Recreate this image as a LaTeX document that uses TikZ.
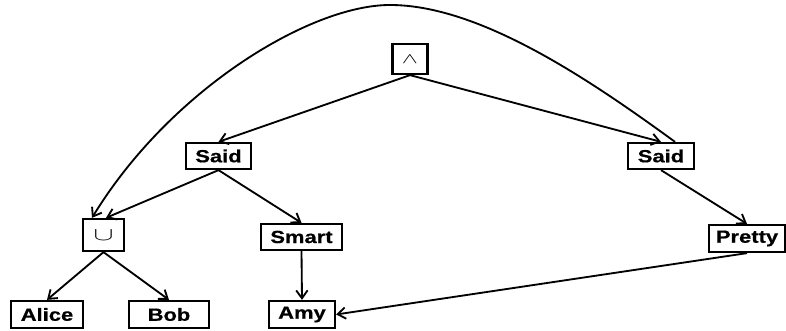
\documentclass[tikz,border=0pt]{standalone}
\usepackage{fontspec}
\usepackage{graphicx}
\usetikzlibrary{arrows.meta}
\newfontfamily\nodefont{Liberation Sans}[FakeStretch=1.25, FakeBold=0.6]
\tikzset{
    wbox/.style={draw, line width=1.3pt, font=\nodefont\bfseries, minimum height=0.52cm, inner sep=0pt},
    arr/.style={line width=1.05pt, -{Straight Barb[length=4.5pt,width=6.5pt]}}
}
\begin{document}
\begin{tikzpicture}
                                \useasboundingbox (0,0) rectangle (15.72,6.62);

                                \node[wbox, minimum width=0.70cm, minimum height=0.60cm] (andn) at (8.20,5.44) {\raisebox{-2pt}{\scalebox{1.37}[0.85]{$\wedge$}}};
                                \node[wbox, minimum width=1.30cm] (saidl) at (4.37,3.50) {Said};
                                \node[wbox, minimum width=1.32cm] (saidr) at (13.22,3.50) {Said};
                                \node[wbox, minimum width=0.82cm, minimum height=0.64cm] (cupn) at (2.07,1.92) {\raisebox{-2pt}{\scalebox{1.7}[1.05]{$\cup$}}};
                                \node[wbox, minimum width=1.62cm] (smart) at (6.03,1.88) {Smart};
                                \node[wbox, minimum width=1.52cm, minimum height=0.54cm] (pretty) at (14.94,1.85) {Pretty};
                                \node[wbox, minimum width=1.44cm, minimum height=0.54cm] (alice) at (0.94,0.33) {Alice};
                                \node[wbox, minimum width=1.60cm, minimum height=0.54cm] (bob) at (3.38,0.33) {Bob};
                                \node[wbox, minimum width=1.32cm, minimum height=0.54cm] (amy) at (6.04,0.33) {Amy};

                                \draw[arr] (andn.south) -- (saidl.north);
                                \draw[arr] (andn.south) -- (saidr.north);
                                \draw[arr] (saidl.south) -- ([xshift=0.05cm]cupn.north);
                                \draw[arr] (saidl.south) -- (smart.north);
                                \draw[arr] (saidr.south) -- (pretty.north);
                                \draw[arr] (cupn.south) -- (alice.north);
                                \draw[arr] (cupn.south) -- (bob.north);
                                \draw[arr] (smart.south) -- (amy.north);
                                \draw[arr] (pretty.south) -- (amy.east);
                                \draw[arr] ([xshift=0.28cm]saidr.north) .. controls (11.80,5.02) and (9.60,6.52) .. (7.80,6.52)
                                    .. controls (6.20,6.52) and (3.40,4.82) .. ([xshift=-0.23cm]cupn.north);
                            \end{tikzpicture}
\end{document}
